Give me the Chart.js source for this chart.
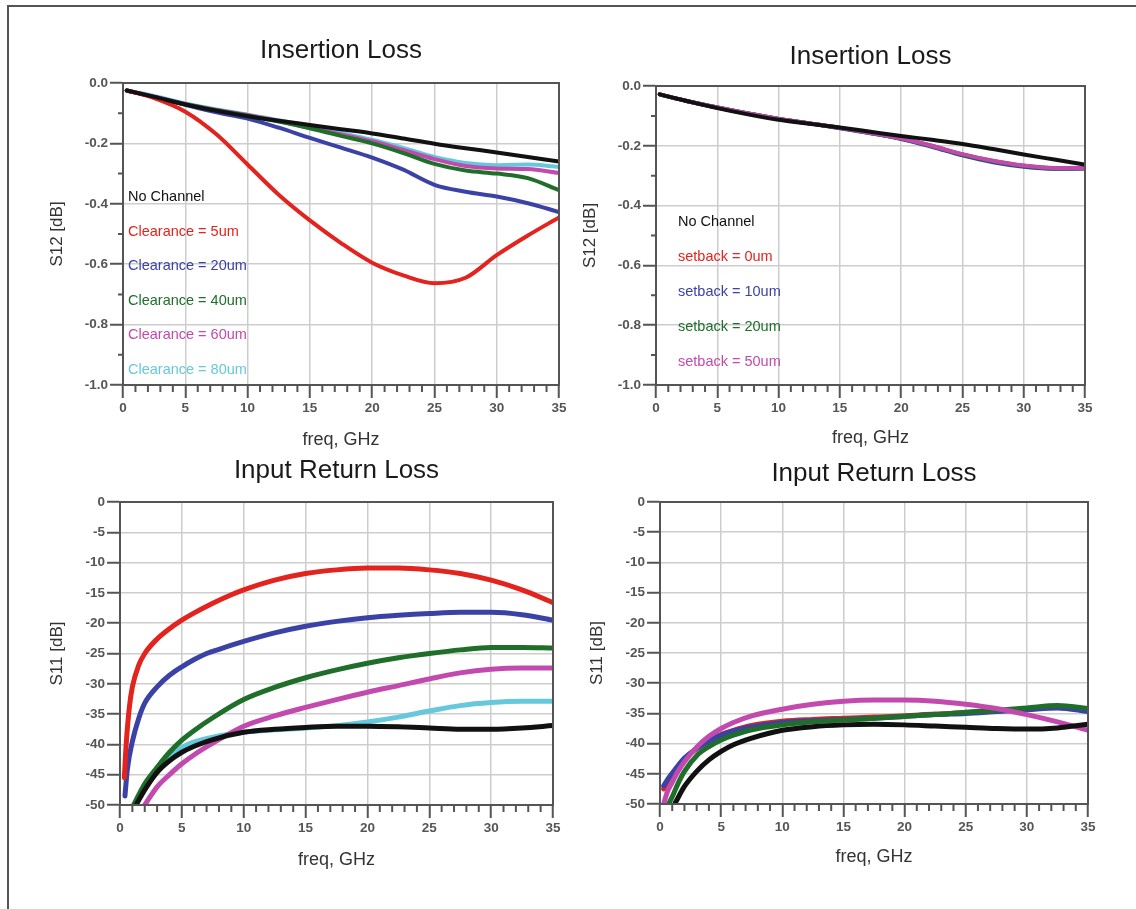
<!DOCTYPE html>
<html>
<head>
<meta charset="utf-8">
<script src="https://cdn.jsdelivr.net/npm/chart.js@4.4.1/dist/chart.umd.min.js"></script>
<style>
  html, body { margin: 0; background: #fff; }
  body { width: 1136px; height: 909px; position: relative; overflow: hidden; }
  .sheet { position: absolute; left: 7px; top: 5px; width: 1140px; height: 920px; border: 2px solid #555; }
  canvas { position: absolute; }
</style>
</head>
<body>
<div class="sheet"></div>
<canvas id="ilClearance"></canvas>
<canvas id="ilSetback"></canvas>
<canvas id="rlClearance"></canvas>
<canvas id="rlSetback"></canvas>
<script>
// --- insertion loss, S12 [dB] (shared frequency grid, GHz) ---
const ilFreq = [0.3, 2.5, 5, 7.5, 10, 12.5, 15, 17.5, 20, 22.5, 25, 27.5, 30, 32.5, 35];

const ilNoChannel = [-0.025, -0.046, -0.071, -0.092, -0.110, -0.125, -0.139, -0.153, -0.167, -0.184, -0.201, -0.216, -0.230, -0.245, -0.260];
const ilClear5  = [-0.025, -0.050, -0.095, -0.170, -0.270, -0.370, -0.455, -0.530, -0.595, -0.637, -0.663, -0.645, -0.570, -0.505, -0.445];
const ilClear20 = [-0.025, -0.046, -0.072, -0.097, -0.118, -0.148, -0.182, -0.214, -0.247, -0.287, -0.337, -0.360, -0.376, -0.398, -0.427];
const ilClear40 = [-0.025, -0.046, -0.070, -0.090, -0.108, -0.128, -0.150, -0.175, -0.200, -0.232, -0.268, -0.290, -0.300, -0.315, -0.355];
const ilClear60 = [-0.025, -0.045, -0.069, -0.089, -0.106, -0.126, -0.148, -0.170, -0.193, -0.222, -0.252, -0.275, -0.283, -0.285, -0.298];
const ilClear80 = [-0.025, -0.043, -0.068, -0.088, -0.105, -0.123, -0.143, -0.165, -0.188, -0.215, -0.245, -0.265, -0.272, -0.270, -0.278];

const ilNoChannelB = [-0.028, -0.050, -0.074, -0.095, -0.113, -0.126, -0.139, -0.153, -0.167, -0.180, -0.194, -0.211, -0.229, -0.246, -0.263];
const ilSet0  = [-0.028, -0.050, -0.072, -0.092, -0.110, -0.125, -0.140, -0.157, -0.176, -0.200, -0.229, -0.251, -0.267, -0.275, -0.275];
const ilSet10 = [-0.028, -0.050, -0.072, -0.092, -0.110, -0.125, -0.141, -0.158, -0.177, -0.203, -0.232, -0.255, -0.270, -0.277, -0.276];
const ilSet20 = [-0.028, -0.050, -0.072, -0.092, -0.110, -0.125, -0.140, -0.157, -0.176, -0.201, -0.230, -0.252, -0.268, -0.276, -0.275];
const ilSet50 = [-0.028, -0.050, -0.072, -0.092, -0.110, -0.125, -0.140, -0.157, -0.175, -0.200, -0.228, -0.250, -0.266, -0.274, -0.274];

// --- input return loss, S11 [dB] (each curve enters the plot at its own frequency) ---
const rlNoChannelF = [1.3, 2, 3, 4, 5, 6, 7.5, 10, 12.5, 15, 17.5, 20, 22.5, 25, 27.5, 30, 32.5, 35];
const rlNoChannel  = [-50, -47.5, -44.6, -42.7, -41.3, -40.3, -39.2, -38.0, -37.5, -37.2, -37.0, -37.0, -37.1, -37.3, -37.5, -37.5, -37.3, -36.9];
const rlClear5F  = [0.35, 0.5, 0.75, 1, 1.5, 2, 3, 4, 5, 6, 7.5, 9, 10, 12.5, 15, 17.5, 20, 22.5, 25, 27.5, 30, 32.5, 35];
const rlClear5   = [-45.5, -40, -34, -30.5, -27, -25, -22.6, -20.9, -19.5, -18.3, -16.7, -15.3, -14.5, -12.9, -11.8, -11.2, -10.9, -10.9, -11.2, -11.8, -12.9, -14.5, -16.6];
const rlClear20F = [0.4, 0.6, 1, 1.5, 2, 3, 4, 5, 6, 7, 8, 10, 12.5, 15, 17.5, 20, 22.5, 25, 27.5, 30, 32.5, 35];
const rlClear20  = [-48.5, -44, -39.5, -35.8, -33.2, -30.5, -28.6, -27.2, -26, -25, -24.3, -23, -21.6, -20.5, -19.7, -19.1, -18.7, -18.4, -18.2, -18.2, -18.6, -19.5];
const rlClear40F = [1.1, 2, 3, 4, 5, 6, 7.5, 10, 12.5, 15, 17.5, 20, 22.5, 25, 27.5, 30, 32.5, 35];
const rlClear40  = [-50, -46.5, -43.8, -41.3, -39.3, -37.7, -35.6, -32.6, -30.6, -29.0, -27.7, -26.6, -25.7, -25.0, -24.4, -24.0, -24.0, -24.1];
const rlClear60F = [2, 3, 4, 5, 6, 7.5, 10, 12.5, 15, 17.5, 20, 22.5, 25, 27.5, 30, 32.5, 35];
const rlClear60  = [-50, -47, -45, -43.2, -41.7, -39.8, -37.0, -35.3, -33.9, -32.6, -31.4, -30.3, -29.2, -28.2, -27.6, -27.4, -27.4];
const rlClear80F = [1.2, 2, 3, 4, 5, 6, 7.5, 10, 12.5, 15, 17.5, 20, 22.5, 25, 27.5, 30, 32.5, 35];
const rlClear80  = [-50, -46.8, -43.8, -41.8, -40.5, -39.6, -38.8, -38.0, -37.6, -37.3, -36.9, -36.3, -35.5, -34.5, -33.6, -33.1, -32.9, -32.9];

const rlNoChannelBF = [1.2, 2, 3, 4, 5, 6, 7.5, 10, 12.5, 15, 17.5, 20, 22.5, 25, 27.5, 30, 32.5, 35];
const rlNoChannelB  = [-50, -47.1, -44.6, -42.7, -41.3, -40.2, -39.1, -37.8, -37.2, -36.9, -36.8, -36.9, -37.1, -37.3, -37.5, -37.6, -37.4, -36.8];
const rlSetF  = [0.3, 0.6, 1, 1.5, 2, 3, 4, 5, 6, 7.5, 10, 12.5, 15, 17.5, 20, 22.5, 25, 27.5, 30, 32.5, 35];
const rlSet0  = [-47.5, -46.3, -45, -43.7, -42.5, -40.8, -39.5, -38.5, -37.8, -37.0, -36.3, -36.0, -35.8, -35.6, -35.4, -35.1, -34.9, -34.6, -34.3, -34.0, -34.5];
const rlSet10 = [-47, -46, -44.9, -43.6, -42.4, -40.8, -39.6, -38.6, -37.9, -37.2, -36.5, -36.2, -36.0, -35.8, -35.5, -35.2, -35.0, -34.7, -34.4, -34.1, -34.7];
const rlSet20F = [0.7, 1, 1.5, 2, 3, 4, 5, 6, 7.5, 10, 12.5, 15, 17.5, 20, 22.5, 25, 27.5, 30, 32.5, 35];
const rlSet20  = [-50, -48.8, -46.5, -44.6, -42.0, -40.5, -39.4, -38.6, -37.7, -36.9, -36.4, -36.1, -35.8, -35.5, -35.2, -34.8, -34.5, -34.1, -33.7, -34.2];
const rlSet50  = [-50, -48, -46.4, -44.5, -43, -40.6, -38.8, -37.5, -36.5, -35.4, -34.3, -33.5, -33.0, -32.8, -32.8, -33.0, -33.5, -34.2, -35.2, -36.4, -37.8];

const clearanceNames = ['No Channel', 'Clearance = 5um', 'Clearance = 20um', 'Clearance = 40um', 'Clearance = 60um', 'Clearance = 80um'];
const setbackNames = ['No Channel', 'setback = 0um', 'setback = 10um', 'setback = 20um', 'setback = 50um'];

const BLACK = '#111111', RED = '#e3231e', BLUE = '#3b42a6', GREEN = '#1f6f2a', MAGENTA = '#c24aae', CYAN = '#66c9db';
const FONT = "'Liberation Sans', Arial, sans-serif";
Chart.defaults.font.family = FONT;

function series(label, color, freq, vals, order) {
    return {
        label: label,
        borderColor: color,
        data: freq.map((f, i) => ({ x: f, y: vals[i] })),
        order: order
    };
}

// short minor ticks + the dark box round the plot
const tickMarks = {
    id: 'tickMarks',
    afterDraw(chart, args, opts) {
        const { ctx, chartArea: a, scales: { x, y } } = chart;
        ctx.save();
        ctx.strokeStyle = '#555';
        ctx.lineWidth = 2;
        ctx.beginPath();
        const nx = Math.round((x.max - x.min) / opts.xMinor);
        for (let i = 1; i < nx; i++) {
            if (i % opts.xEvery === 0) continue;
            const px = x.getPixelForValue(x.min + i * opts.xMinor);
            ctx.moveTo(px, a.bottom);
            ctx.lineTo(px, a.bottom + 7);
        }
        if (opts.yMinor) {
            const ny = Math.round((y.max - y.min) / opts.yMinor);
            for (let i = 1; i < ny; i += 2) {
                const py = y.getPixelForValue(y.min + i * opts.yMinor);
                ctx.moveTo(a.left - 5, py);
                ctx.lineTo(a.left, py);
            }
        }
        ctx.stroke();
        ctx.strokeRect(a.left, a.top, a.right - a.left, a.bottom - a.top);
        ctx.restore();
    }
};

// coloured text key inside the plot, no swatches
const textKey = {
    id: 'textKey',
    afterDatasetsDraw(chart, args, opts) {
        const { ctx, chartArea: a } = chart;
        ctx.save();
        ctx.font = '14.5px ' + FONT;
        ctx.textBaseline = 'middle';
        chart.data.datasets.forEach((ds, i) => {
            ctx.fillStyle = ds.borderColor;
            ctx.fillText(ds.label, a.left + opts.dx, a.top + opts.dy + i * opts.gap);
        });
        ctx.restore();
    }
};

function panel(id, box, title, yTitle, yAxis, datasets, key, lineWidth) {
    const canvas = document.getElementById(id);
    const left = box.l - 110, top = box.t - 75;
    canvas.style.left = left + 'px';
    canvas.style.top = top + 'px';
    canvas.width = box.r - box.l + 140;
    canvas.height = box.b - box.t + 155;
    const titleSize = 26;
    const titleTop = box.titleY - top - titleSize * 0.6;

    const tickFont = { size: 13.5, weight: 'bold' };
    const grid = { color: '#cdcdcd', lineWidth: 1.5, tickColor: '#555', tickLength: 13, tickWidth: 2 };
    const border = { color: '#555', width: 2 };

    new Chart(canvas, {
        type: 'line',
        data: { datasets: datasets },
        options: {
            responsive: false,
            animation: false,
            devicePixelRatio: 1,
            layout: { padding: { left: 0, top: 0, right: 30, bottom: 0 } },
            elements: {
                point: { radius: 0 },
                line: { borderWidth: lineWidth, cubicInterpolationMode: 'monotone', borderCapStyle: 'round' }
            },
            plugins: {
                legend: { display: false },
                tooltip: { enabled: false },
                title: {
                    display: true,
                    text: title,
                    fullSize: false,
                    color: '#1a1a1a',
                    font: { size: titleSize, weight: 'normal' },
                    padding: { top: titleTop, bottom: 75 - titleTop - titleSize * 1.2 }
                },
                textKey: key || false,
                tickMarks: { xMinor: 1, xEvery: 5, yMinor: yAxis.minor }
            },
            scales: {
                x: {
                    type: 'linear',
                    min: 0,
                    max: 35,
                    afterFit: s => { s.height = 80; },
                    ticks: { stepSize: 5, padding: 2, color: '#555', font: tickFont, maxRotation: 0, autoSkip: false },
                    grid: grid,
                    border: border,
                    title: {
                        display: true,
                        text: 'freq, GHz',
                        color: '#333',
                        font: { size: 18 },
                        padding: { top: 0, bottom: box.b + 80 - box.xTitleY - 10.8 }
                    }
                },
                y: {
                    min: yAxis.min,
                    max: yAxis.max,
                    afterFit: s => { s.width = 110; },
                    ticks: {
                        stepSize: yAxis.step,
                        padding: 2,
                        color: '#555',
                        font: tickFont,
                        autoSkip: false,
                        callback: v => v.toFixed(yAxis.digits)
                    },
                    grid: grid,
                    border: border,
                    title: {
                        display: true,
                        text: yTitle,
                        color: '#333',
                        font: { size: 17 },
                        padding: { top: box.yTitleX - left - 10.2, bottom: 0 }
                    }
                }
            }
        },
        plugins: [tickMarks, textKey]
    });
}

const s12Axis = { min: -1, max: 0, step: 0.2, digits: 1, minor: 0.1 };
const s11Axis = { min: -50, max: 0, step: 5, digits: 0, minor: 0 };

panel('ilClearance', { l: 123, t: 83, r: 559, b: 385, titleY: 51, yTitleX: 57, xTitleY: 440 },
    'Insertion Loss', 'S12 [dB]', s12Axis, [
        series(clearanceNames[0], BLACK, ilFreq, ilNoChannel, 0),
        series(clearanceNames[1], RED, ilFreq, ilClear5, 1),
        series(clearanceNames[2], BLUE, ilFreq, ilClear20, 2),
        series(clearanceNames[3], GREEN, ilFreq, ilClear40, 3),
        series(clearanceNames[4], MAGENTA, ilFreq, ilClear60, 4),
        series(clearanceNames[5], CYAN, ilFreq, ilClear80, 5)
    ], { dx: 5, dy: 114, gap: 34.6 }, 4);

panel('ilSetback', { l: 656, t: 86, r: 1085, b: 385, titleY: 57, yTitleX: 590, xTitleY: 438 },
    'Insertion Loss', 'S12 [dB]', s12Axis, [
        series(setbackNames[0], BLACK, ilFreq, ilNoChannelB, 0),
        series(setbackNames[1], RED, ilFreq, ilSet0, 4),
        series(setbackNames[2], BLUE, ilFreq, ilSet10, 3),
        series(setbackNames[3], GREEN, ilFreq, ilSet20, 2),
        series(setbackNames[4], MAGENTA, ilFreq, ilSet50, 1)
    ], { dx: 22, dy: 136, gap: 35 }, 4);

panel('rlClearance', { l: 120, t: 502, r: 553, b: 805, titleY: 471, yTitleX: 57, xTitleY: 860 },
    'Input Return Loss', 'S11 [dB]', s11Axis, [
        series(clearanceNames[0], BLACK, rlNoChannelF, rlNoChannel, 0),
        series(clearanceNames[1], RED, rlClear5F, rlClear5, 1),
        series(clearanceNames[2], BLUE, rlClear20F, rlClear20, 2),
        series(clearanceNames[3], GREEN, rlClear40F, rlClear40, 3),
        series(clearanceNames[4], MAGENTA, rlClear60F, rlClear60, 4),
        series(clearanceNames[5], CYAN, rlClear80F, rlClear80, 5)
    ], null, 5);

panel('rlSetback', { l: 660, t: 502, r: 1088, b: 804, titleY: 474, yTitleX: 597, xTitleY: 857 },
    'Input Return Loss', 'S11 [dB]', s11Axis, [
        series(setbackNames[0], BLACK, rlNoChannelBF, rlNoChannelB, 0),
        series(setbackNames[1], RED, rlSetF, rlSet0, 4),
        series(setbackNames[2], BLUE, rlSetF, rlSet10, 3),
        series(setbackNames[3], GREEN, rlSet20F, rlSet20, 2),
        series(setbackNames[4], MAGENTA, rlSetF, rlSet50, 1)
    ], null, 5);
</script>
</body>
</html>
